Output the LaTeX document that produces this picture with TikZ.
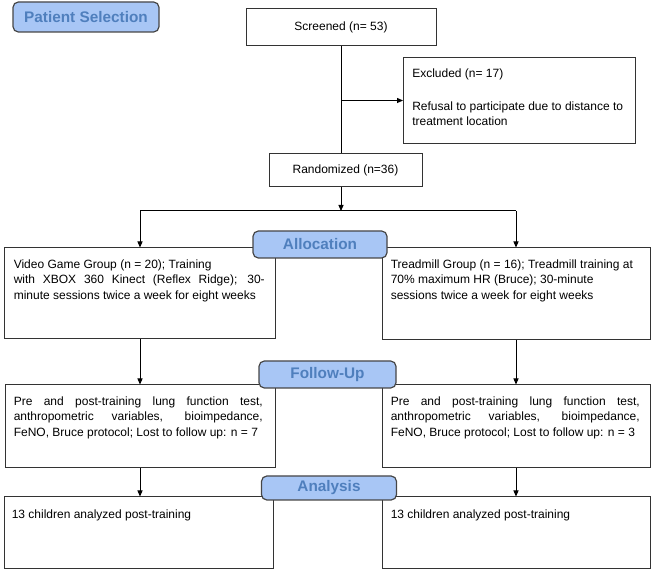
\documentclass[tikz,border=0pt]{standalone}
\usepackage{fontspec}
\setmainfont{Liberation Sans}
\usetikzlibrary{arrows.meta,calc}
\definecolor{hfill}{RGB}{168,198,245}
\definecolor{htext}{RGB}{79,127,189}
\definecolor{hborder}{RGB}{70,70,70}
\begin{document}
\begin{tikzpicture}[x=0.75pt,y=-0.75pt,
  box/.style={draw=black!80, line width=0.75pt, inner sep=0pt, font=\fontsize{9}{11.5}\selectfont},
  head/.style={draw=hborder, fill=hfill, rounded corners=4pt, line width=0.9pt, inner sep=0pt, text=htext, font=\fontsize{11.5}{13}\selectfont\bfseries},
  txt/.style={anchor=north west, inner sep=0pt, align=left, font=\fontsize{9}{11.5}\selectfont},
  arr/.style={line width=0.75pt, -{Triangle[length=4.5pt,width=3.8pt]}},
  conn/.style={line width=0.75pt}]
\useasboundingbox (0,0) rectangle (651,570);
% boxes
\node[box, minimum width=142.5pt, minimum height=27.75pt] (scr) at (341,27.5) {Screened (n= 53)};
\node[box, minimum width=174pt, minimum height=64.5pt] (exc) at (519.5,100.5) {};
\node[box, minimum width=114.75pt, minimum height=24.75pt] (rnd) at (345.5,170.5) {Randomized (n=36)};
\node[box, minimum width=203.25pt, minimum height=68.25pt] (vg) at (139.5,293.5) {};
\node[box, minimum width=201.375pt, minimum height=69pt] (tm) at (516.25,294) {};
\node[box, minimum width=202.5pt, minimum height=62.25pt] (fl) at (140,426.5) {};
\node[box, minimum width=201.375pt, minimum height=62.25pt] (fr) at (516.25,426.5) {};
\node[box, minimum width=201.75pt, minimum height=54pt] (al) at (138.5,533) {};
\node[box, minimum width=201.375pt, minimum height=54pt] (ar) at (516.25,533) {};
% texts
\node[txt] (exct) at ($(exc.north west)+(9,12)$) {Excluded (n= 17)\\[13pt]Refusal to participate due to distance to\\treatment location};
\node[txt] (vgt) at ($(vg.north west)+(10,12)$) {Video Game Group (n = 20); Training\\\makebox[188.25pt][s]{with XBOX 360 Kinect (Reflex Ridge); 30-}\\minute sessions twice a week for eight weeks};
\node[txt] (tmt) at ($(tm.north west)+(9,12)$) {Treadmill Group (n = 16); Treadmill training at\\70\% maximum HR (Bruce); 30-minute\\sessions twice a week for eight weeks};
\node[txt] (flt) at ($(fl.north west)+(9,12)$) {\makebox[186.75pt][s]{Pre and post-training lung function test,}\\\makebox[186.75pt][s]{anthropometric variables, bioimpedance,}\\FeNO, Bruce protocol; Lost to follow up: n = 7};
\node[txt] (frt) at ($(fr.north west)+(9,12)$) {\makebox[186.75pt][s]{Pre and post-training lung function test,}\\\makebox[186.75pt][s]{anthropometric variables, bioimpedance,}\\FeNO, Bruce protocol; Lost to follow up: n = 3};
\node[txt] (alt) at ($(al.north west)+(8,13)$) {13 children analyzed post-training};
\node[txt] (art) at ($(ar.north west)+(9,13)$) {13 children analyzed post-training};
% connectors
\coordinate (split) at (341,211);
\coordinate (sl) at (140,211);
\coordinate (sr) at (516,211);
\draw[conn] (scr.south) -- (scr.south |- rnd.north);
\draw[arr] (scr.south |- exc.west) -- (exc.west);
\draw[arr] (rnd.south -| split) -- (split);
\draw[conn] (sl) -- (sr);
\draw[arr] (sl) -- (sl |- vg.north);
\draw[arr] (sr) -- (sr |- tm.north);
\draw[arr] (vg.south -| sl) -- (fl.north -| sl);
\draw[arr] (tm.south -| sr) -- (fr.north -| sr);
\draw[arr] (fl.south -| sl) -- (al.north -| sl);
\draw[arr] (fr.south -| sr) -- (ar.north -| sr);
% headings
\node[head, minimum width=109.5pt, minimum height=22.5pt] (ps) at (86,17) {Patient Selection};
\node[head, minimum width=100.5pt, minimum height=20.25pt] (alloc) at (320,244.5) {Allocation};
\node[head, minimum width=102.75pt, minimum height=20.25pt] (fu) at (327.5,374.5) {Follow-Up};
\node[head, minimum width=101.25pt, minimum height=18pt] (an) at (329,488) {Analysis};
\end{tikzpicture}
\end{document}
